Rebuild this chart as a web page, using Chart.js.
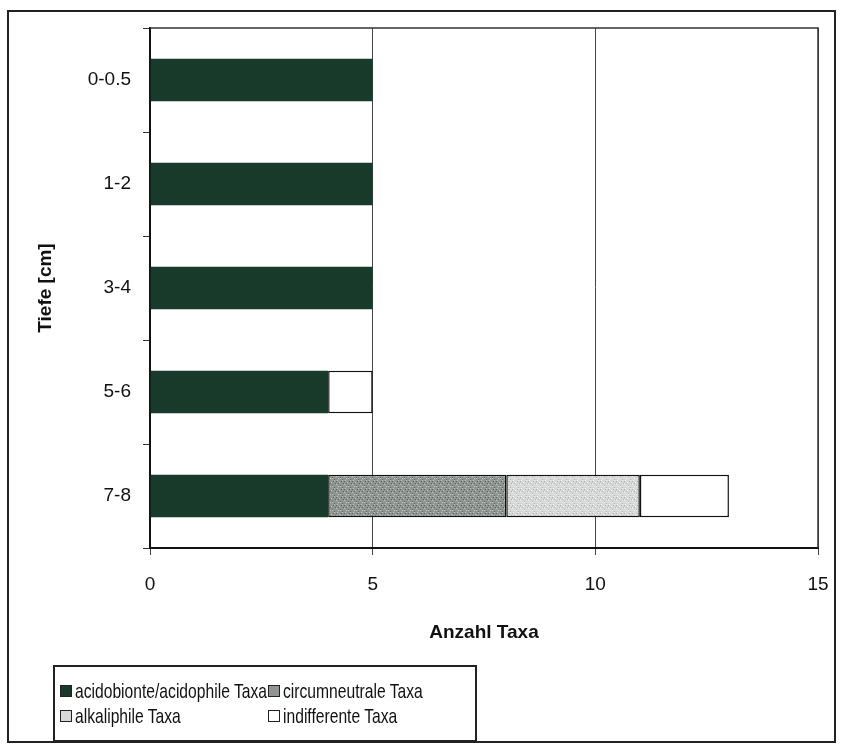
<!DOCTYPE html>
<html>
<head>
<meta charset="utf-8">
<script src="https://cdn.jsdelivr.net/npm/chart.js@4"></script>
<style>
  html, body { margin: 0; padding: 0; background: #fff; }
  #wrap { position: relative; width: 843px; height: 744px; }
  #frame { position: absolute; left: 7px; top: 10px; width: 829px; height: 733px; border: 2px solid #222; box-sizing: border-box; pointer-events: none; }
  canvas { position: absolute; left: 0; top: 0; }
  #legend {
    position: absolute; left: 53px; top: 665px; width: 424px; height: 77px;
    border: 2px solid #222; box-sizing: border-box;
    font-family: "Liberation Sans", Arial, sans-serif; font-size: 21px; line-height: 25px; color: #111;
    display: grid; grid-template-columns: 208px auto; grid-auto-rows: 25px; row-gap: 0;
    padding: 11px 0 0 5px;
  }
  .item { display: flex; align-items: center; white-space: nowrap; height: 25px; }
  .sw { flex: 0 0 auto; width: 12px; height: 12px; border: 1.5px solid #222; margin-right: 3px; box-sizing: border-box; }
  .txt { display: inline-block; transform: scaleX(0.745); transform-origin: left center; }
</style>
</head>
<body>
<div id="wrap">
  <canvas id="chart" width="843" height="744"></canvas>
  <div id="frame"></div>
  <div id="legend"></div>
</div>
<script>
// Tiefenstufen (cm)
const tiefen = ['0-0.5', '1-2', '3-4', '5-6', '7-8'];

// Anzahl Taxa je Gruppe
const acidophil = [5, 5, 5, 4, 4];
const circumneutral = [0, 0, 0, 0, 4];
const alkaliphil = [0, 0, 0, 0, 3];
const indifferent = [0, 0, 0, 1, 2];

const xTicks = [0, 5, 10, 15];

const gruppen = [
  { label: 'acidobionte/acidophile Taxa', data: acidophil, color: '#173a2a' },
  { label: 'circumneutrale Taxa', data: circumneutral, color: '#8f9591' },
  { label: 'alkaliphile Taxa', data: alkaliphil, color: '#d6d9d7' },
  { label: 'indifferente Taxa', data: indifferent, color: '#ffffff' }
];

// Punktmuster fuer die grauen Fuellungen (deterministisch)
function makePattern(base, dark, light) {
  const c = document.createElement('canvas');
  c.width = 8; c.height = 8;
  const g = c.getContext('2d');
  g.fillStyle = base;
  g.fillRect(0, 0, 8, 8);
  const dots = [[1,0],[5,1],[3,2],[7,3],[0,4],[4,5],[2,6],[6,7],[6,0],[2,3],[4,6],[0,1]];
  dots.forEach(([x, y], i) => {
    g.fillStyle = i % 2 ? dark : light;
    g.fillRect(x, y, 1, 1);
  });
  return g.createPattern(c, 'repeat');
}

const fills = [
  gruppen[0].color,
  makePattern('#8f9591', '#5f6662', '#c3c8c5'),
  makePattern('#d6d9d7', '#aeb2af', '#f4f4f4'),
  gruppen[3].color
];

const font = { family: '"Liberation Sans", Arial, sans-serif', size: 19 };

const frameBox = {
  id: 'frameBox',
  afterDraw(chart) {
    const { ctx, chartArea: a } = chart;
    ctx.save();
    ctx.strokeStyle = '#333';
    ctx.lineWidth = 1.5;
    ctx.beginPath();
    ctx.moveTo(a.left, a.top);
    ctx.lineTo(a.right, a.top);
    ctx.lineTo(a.right, a.bottom);
    ctx.stroke();
    ctx.restore();
  }
};

new Chart(document.getElementById('chart'), {
  type: 'bar',
  data: {
    labels: tiefen,
    datasets: gruppen.map((g, i) => ({
      label: g.label,
      data: g.data,
      backgroundColor: fills[i],
      borderColor: '#111',
      borderWidth: i === 0 ? 0 : 1.5,
      borderSkipped: false,
      categoryPercentage: 0.41,
      barPercentage: 1
    }))
  },
  options: {
    indexAxis: 'y',
    responsive: false,
    animation: false,
    layout: { autoPadding: false, padding: { left: 0, top: 28, right: 25, bottom: 96 } },
    plugins: { legend: { display: false }, tooltip: { enabled: false } },
    scales: {
      x: {
        stacked: true,
        min: 0,
        max: 15,
        afterBuildTicks: axis => { axis.ticks = xTicks.map(v => ({ value: v })); },
        afterFit: axis => { axis.height = 100; },
        border: { color: '#111', width: 2 },
        // lange Ticks, aber nur 6px sichtbar -> Abstand zu den Beschriftungen
        grid: { color: '#444', lineWidth: 1, tickLength: 21, drawTicks: true, tickBorderDash: [6, 60] },
        ticks: { color: '#111', font, padding: 4 },
        title: { display: true, text: 'Anzahl Taxa', color: '#111', font: { ...font, weight: 'bold' }, padding: { top: 14 } }
      },
      y: {
        stacked: true,
        afterFit: axis => { axis.width = 150; },
        border: { color: '#111', width: 2 },
        grid: { drawOnChartArea: false, color: '#333', tickLength: 7, offset: true },
        ticks: { color: '#111', font, padding: 12 },
        title: { display: true, text: 'Tiefe [cm]', color: '#111', font: { ...font, weight: 'bold' }, padding: { top: 34, bottom: 0 } }
      }
    }
  },
  plugins: [frameBox]
});

// Legende
const legend = document.getElementById('legend');
gruppen.forEach(g => {
  const d = document.createElement('div');
  d.className = 'item';
  const sw = document.createElement('span');
  sw.className = 'sw';
  sw.style.background = g.color;
  const t = document.createElement('span');
  t.className = 'txt';
  t.textContent = g.label;
  d.appendChild(sw);
  d.appendChild(t);
  legend.appendChild(d);
});
</script>
</body>
</html>
